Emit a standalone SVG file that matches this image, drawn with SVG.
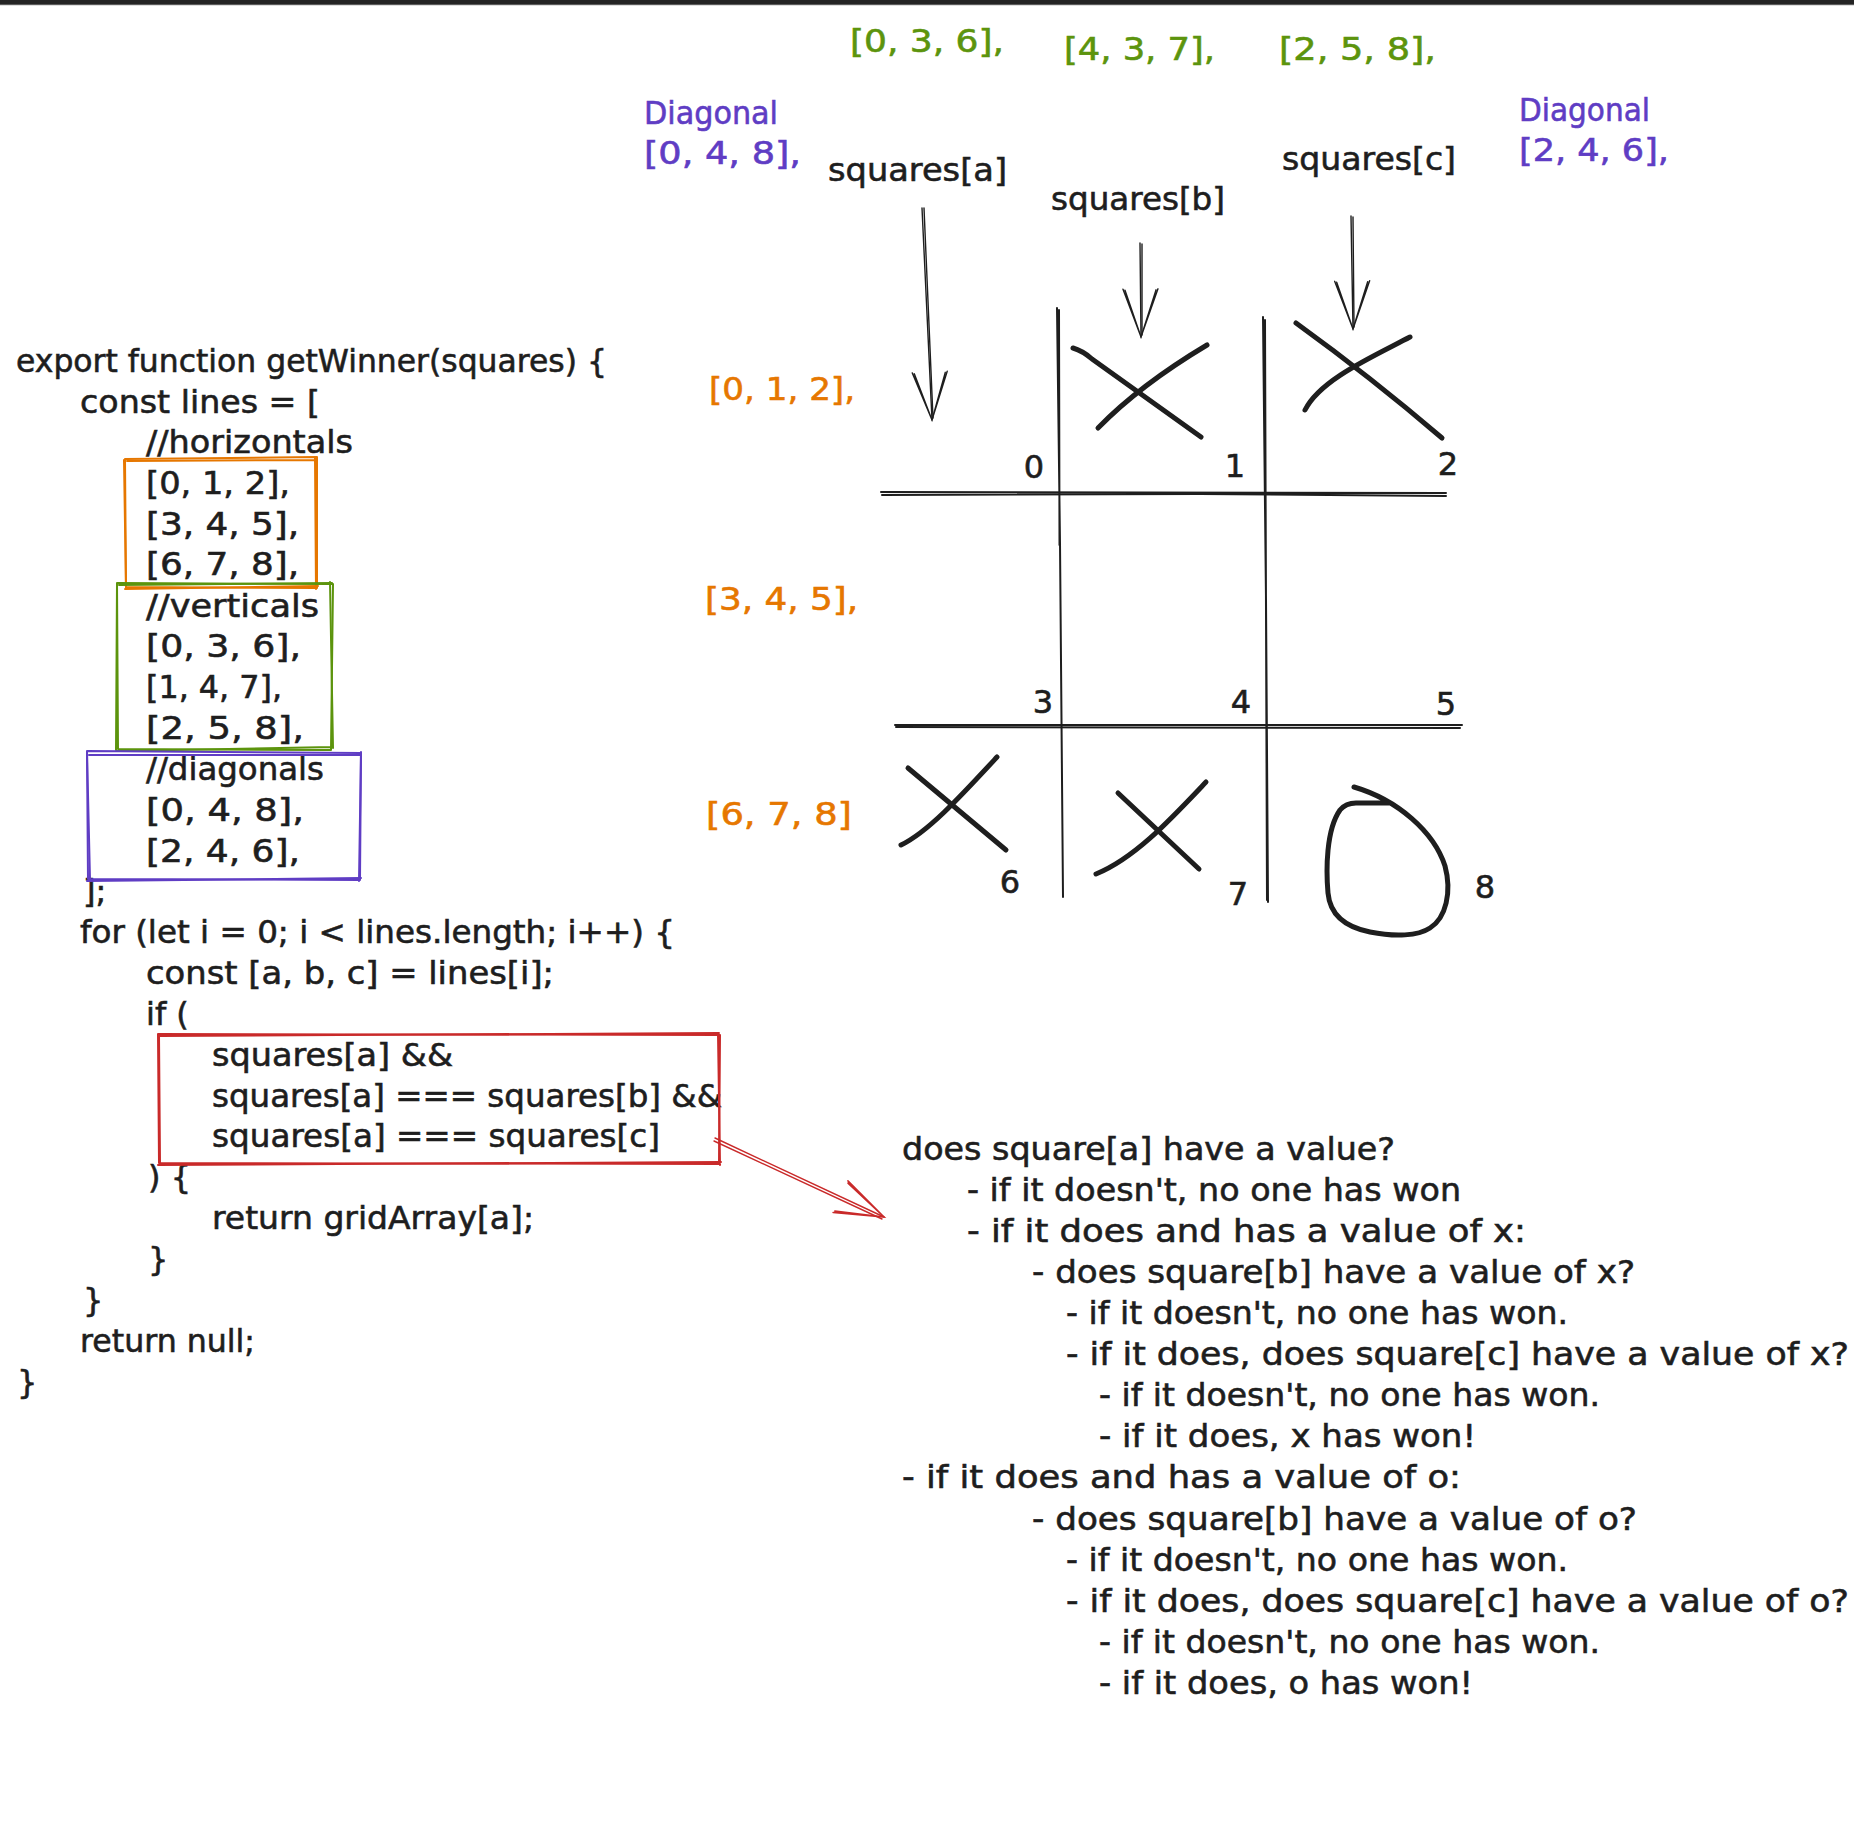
<svg xmlns="http://www.w3.org/2000/svg" width="1854" height="1822" viewBox="0 0 1854 1822">
<style>
text{font-family:"DejaVu Sans","Liberation Sans",sans-serif;font-size:32px;fill:#1e1e1e;stroke:#1e1e1e;stroke-width:0.6}
.or{fill:#e67700;stroke:#e67700}.gr{fill:#5c940d;stroke:#5c940d}.pu{fill:#5f3dc4;stroke:#5f3dc4}
.box{fill:none;stroke-width:2;stroke-linejoin:round;stroke-linecap:round}
.grid{fill:none;stroke:#1e1e1e;stroke-width:2;stroke-linecap:round}
.mark{fill:none;stroke:#1e1e1e;stroke-width:5;stroke-linecap:round;stroke-linejoin:round}
.arr{fill:none;stroke:#1e1e1e;stroke-width:1.4;stroke-linecap:round}
.rarr{fill:none;stroke:#c92a2a;stroke-width:1.4;stroke-linecap:round}
</style>
<defs>
<marker id="hk" markerUnits="userSpaceOnUse" viewBox="-52 -22 56 44" markerWidth="56" markerHeight="44" refX="0" refY="0" orient="auto">
<path d="M-48,-17.5 L0,0 L-48,17.5 M-47,-15.5 L0,0 L-47,15.5" fill="none" stroke="#1e1e1e" stroke-width="1.4" stroke-linecap="round"/>
</marker>
<marker id="hr" markerUnits="userSpaceOnUse" viewBox="-52 -22 56 44" markerWidth="56" markerHeight="44" refX="0" refY="0" orient="auto">
<path d="M-48,-17.5 L0,0 L-48,17.5 M-47,-15.5 L0,0 L-47,15.5" fill="none" stroke="#c92a2a" stroke-width="1.6" stroke-linecap="round"/>
</marker>
</defs>
<rect x="0" y="0" width="1854" height="1822" fill="#ffffff"/>
<rect x="0" y="0" width="1854" height="4" fill="#242424"/>
<rect x="0" y="4" width="1854" height="1.2" fill="#5a5a5a"/>

<g id="code">
<text x="16" y="372" textLength="591" lengthAdjust="spacingAndGlyphs">export function getWinner(squares) {</text>
<text x="80" y="413" textLength="240" lengthAdjust="spacingAndGlyphs">const lines = [</text>
<text x="146" y="453" textLength="207" lengthAdjust="spacingAndGlyphs">//horizontals</text>
<text x="146" y="494" textLength="144" lengthAdjust="spacingAndGlyphs">[0, 1, 2],</text>
<text x="146" y="535" textLength="153" lengthAdjust="spacingAndGlyphs">[3, 4, 5],</text>
<text x="146" y="575" textLength="153" lengthAdjust="spacingAndGlyphs">[6, 7, 8],</text>
<text x="146" y="617" textLength="173" lengthAdjust="spacingAndGlyphs">//verticals</text>
<text x="146" y="657" textLength="155" lengthAdjust="spacingAndGlyphs">[0, 3, 6],</text>
<text x="146" y="698" textLength="136" lengthAdjust="spacingAndGlyphs">[1, 4, 7],</text>
<text x="146" y="739" textLength="158" lengthAdjust="spacingAndGlyphs">[2, 5, 8],</text>
<text x="146" y="780" textLength="178" lengthAdjust="spacingAndGlyphs">//diagonals</text>
<text x="146" y="821" textLength="158" lengthAdjust="spacingAndGlyphs">[0, 4, 8],</text>
<text x="146" y="862" textLength="154" lengthAdjust="spacingAndGlyphs">[2, 4, 6],</text>
<text x="83" y="902">];</text>
<text x="80" y="943" textLength="595" lengthAdjust="spacingAndGlyphs">for (let i = 0; i &lt; lines.length; i++) {</text>
<text x="146" y="984" textLength="408" lengthAdjust="spacingAndGlyphs">const [a, b, c] = lines[i];</text>
<text x="146" y="1025">if (</text>
<text x="212" y="1066" textLength="241" lengthAdjust="spacingAndGlyphs">squares[a] &amp;&amp;</text>
<text x="212" y="1107" textLength="510" lengthAdjust="spacingAndGlyphs">squares[a] === squares[b] &amp;&amp;</text>
<text x="212" y="1147" textLength="448" lengthAdjust="spacingAndGlyphs">squares[a] === squares[c]</text>
<text x="148" y="1188">) {</text>
<text x="212" y="1229" textLength="322" lengthAdjust="spacingAndGlyphs">return gridArray[a];</text>
<text x="148" y="1270">}</text>
<text x="83" y="1311">}</text>
<text x="80" y="1352" textLength="175" lengthAdjust="spacingAndGlyphs">return null;</text>
<text x="17" y="1393">}</text>
</g>

<g id="box-horizontals" class="box" stroke="#e67700">
<path d="M125,459 L317,457 L317,588 L126,587 Z"/>
<path d="M127,461 L316,460 M315,458 L316,589 M318,586 L125,589 M126,589 L124,460"/>
</g>
<g id="box-verticals" class="box" stroke="#5c940d">
<path d="M117,583 L333,584 L331,750 L118,749 Z"/>
<path d="M119,585 L332,583 M330,582 L333,748 M332,747 L117,751 M116,750 L117,584"/>
</g>
<g id="box-diagonals" class="box" stroke="#5f3dc4">
<path d="M87,751 L361,753 L360,880 L88,879 Z"/>
<path d="M89,755 L360,755 M361,752 L359,881 M361,878 L87,881 M90,879 L87,752"/>
</g>
<g id="box-condition" class="box" stroke="#c92a2a">
<path d="M158,1034 L720,1035 L719,1164 L159,1163 Z"/>
<path d="M160,1036 L719,1033 M718,1034 L720,1165 M721,1162 L158,1165 M160,1164 L159,1035"/>
</g>

<g id="top-labels">
<text class="gr" x="850" y="52" textLength="154" lengthAdjust="spacingAndGlyphs">[0, 3, 6],</text>
<text class="gr" x="1064" y="60" textLength="151" lengthAdjust="spacingAndGlyphs">[4, 3, 7],</text>
<text class="gr" x="1279" y="60" textLength="157" lengthAdjust="spacingAndGlyphs">[2, 5, 8],</text>
<text class="pu" x="644" y="124" textLength="134" lengthAdjust="spacingAndGlyphs">Diagonal</text>
<text class="pu" x="644" y="164" textLength="157" lengthAdjust="spacingAndGlyphs">[0, 4, 8],</text>
<text class="pu" x="1519" y="121" textLength="131" lengthAdjust="spacingAndGlyphs">Diagonal</text>
<text class="pu" x="1519" y="161" textLength="150" lengthAdjust="spacingAndGlyphs">[2, 4, 6],</text>
<text x="828" y="181" textLength="179" lengthAdjust="spacingAndGlyphs">squares[a]</text>
<text x="1051" y="210" textLength="174" lengthAdjust="spacingAndGlyphs">squares[b]</text>
<text x="1282" y="170" textLength="174" lengthAdjust="spacingAndGlyphs">squares[c]</text>
</g>

<g id="row-labels">
<text class="or" x="709" y="400" textLength="146" lengthAdjust="spacingAndGlyphs">[0, 1, 2],</text>
<text class="or" x="705" y="610" textLength="153" lengthAdjust="spacingAndGlyphs">[3, 4, 5],</text>
<text class="or" x="706" y="825" textLength="146" lengthAdjust="spacingAndGlyphs">[6, 7, 8]</text>
</g>

<g id="grid">
<path class="grid" d="M1057,308 L1060,543 L1063,897 M1059,310 L1059.5,545"/>
<path class="grid" d="M1263,317 L1266,600 L1268,902 M1265,320 L1267,900"/>
<path class="grid" d="M881,492 L1446,493 M882,495 L1200,494 L1446,496"/>
<path class="grid" d="M895,725 L1462,725 M896,727 L1460,728"/>
<g text-anchor="middle">
<text x="1034" y="478">0</text>
<text x="1235" y="477">1</text>
<text x="1448" y="475">2</text>
<text x="1043" y="713">3</text>
<text x="1241" y="713">4</text>
<text x="1446" y="715">5</text>
<text x="1010" y="893">6</text>
<text x="1238" y="905">7</text>
<text x="1485" y="898">8</text>
</g>
</g>

<g id="marks">
<path class="mark" d="M1073,348 Q1083,351 1092,359 L1201,437"/>
<path class="mark" d="M1207,345 Q1140,385 1098,428"/>
<path class="mark" d="M1296,323 Q1372,378 1442,438"/>
<path class="mark" d="M1410,337 C1370,358 1320,380 1305,410"/>
<path class="mark" d="M908,768 L1006,850"/>
<path class="mark" d="M997,757 C960,797 928,832 901,845"/>
<path class="mark" d="M1118,793 L1199,869"/>
<path class="mark" d="M1206,782 C1170,820 1135,858 1096,874"/>
<path class="mark" d="M1354,787 C1398,800 1434,832 1445,866 C1452,892 1446,918 1430,928 C1418,936 1395,937 1370,932 C1345,927 1330,915 1328,893 C1326,870 1326,830 1340,810 C1345,804 1350,803 1356,803 L1390,803"/>
</g>

<g id="connectors">
<path class="arr" d="M922,208 L932,420" marker-end="url(#hk)"/>
<path class="arr" d="M924,208 L933,418"/>
<path class="arr" d="M1140,243 L1141,337" marker-end="url(#hk)"/>
<path class="arr" d="M1142,244 L1142,335"/>
<path class="arr" d="M1351,216 L1353,329" marker-end="url(#hk)"/>
<path class="arr" d="M1353,217 L1354,327"/>
<path class="rarr" d="M715,1138 L884,1217" marker-end="url(#hr)"/>
<path class="rarr" d="M714,1141 L882,1219"/>
</g>

<g id="explanation">
<text x="902" y="1160" textLength="493" lengthAdjust="spacingAndGlyphs">does square[a] have a value?</text>
<text x="967" y="1201" textLength="494" lengthAdjust="spacingAndGlyphs">- if it doesn't, no one has won</text>
<text x="967" y="1242" textLength="559" lengthAdjust="spacingAndGlyphs">- if it does and has a value of x:</text>
<text x="1032" y="1283" textLength="603" lengthAdjust="spacingAndGlyphs">- does square[b] have a value of x?</text>
<text x="1066" y="1324" textLength="502" lengthAdjust="spacingAndGlyphs">- if it doesn't, no one has won.</text>
<text x="1066" y="1365" textLength="783" lengthAdjust="spacingAndGlyphs">- if it does, does square[c] have a value of x?</text>
<text x="1099" y="1406" textLength="501" lengthAdjust="spacingAndGlyphs">- if it doesn't, no one has won.</text>
<text x="1099" y="1447" textLength="377" lengthAdjust="spacingAndGlyphs">- if it does, x has won!</text>
<text x="902" y="1488" textLength="559" lengthAdjust="spacingAndGlyphs">- if it does and has a value of o:</text>
<text x="1032" y="1530" textLength="605" lengthAdjust="spacingAndGlyphs">- does square[b] have a value of o?</text>
<text x="1066" y="1571" textLength="502" lengthAdjust="spacingAndGlyphs">- if it doesn't, no one has won.</text>
<text x="1066" y="1612" textLength="783" lengthAdjust="spacingAndGlyphs">- if it does, does square[c] have a value of o?</text>
<text x="1099" y="1653" textLength="501" lengthAdjust="spacingAndGlyphs">- if it doesn't, no one has won.</text>
<text x="1099" y="1694" textLength="374" lengthAdjust="spacingAndGlyphs">- if it does, o has won!</text>
</g>
</svg>
